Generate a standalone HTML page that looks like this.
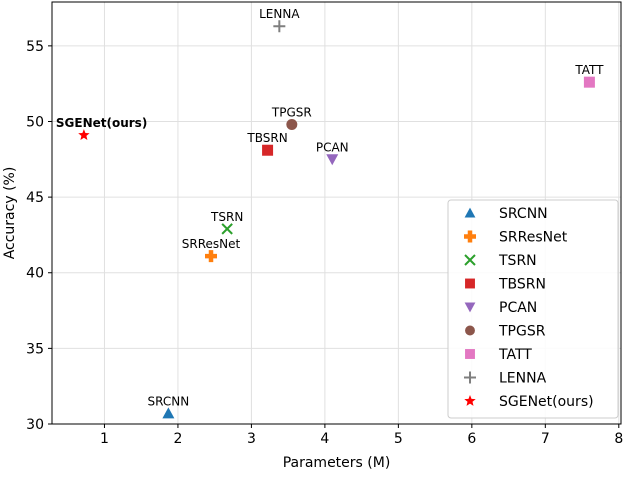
<!DOCTYPE html>
<html><head><meta charset="utf-8"><style>
body{margin:0;background:#fff}
svg{font-family:"DejaVu Sans","Liberation Sans",sans-serif}
</style></head><body>
<svg id="chart" width="624" height="472" viewBox="0 0 624 472">
<g id="grid"></g>
<g id="axes"></g>
<g id="marks"></g>
<g id="legend"></g>
</svg>
<script>
const names=["SRCNN","SRResNet","TSRN","TBSRN","PCAN","TPGSR","TATT","LENNA","SGENet(ours)"];
const params=[1.87,2.45,2.67,3.22,4.1,3.55,7.6,3.38,0.72];
const accuracy=[30.7,41.1,42.9,48.1,47.5,49.8,52.6,56.3,49.1];
const xTicks=[1,2,3,4,5,6,7,8];
const yTicks=[30,35,40,45,50,55];
const colors=["#1f77b4","#ff7f0e","#2ca02c","#d62728","#9467bd","#8c564b","#e377c2","#7f7f7f","#ff0000"];
const shapes=["tri","plus","x","sq","tridown","circle","sq","thinplus","star"];
const L=52,R=621,T=2,B=424,XMIN=0.286,XMAX=8.03,YMIN=30,YMAX=57.9;
const sx=v=>L+(v-XMIN)/(XMAX-XMIN)*(R-L);
const sy=v=>B-(v-YMIN)/(YMAX-YMIN)*(B-T);
const NS="http://www.w3.org/2000/svg";
function mk(tag,attrs,parent){const e=document.createElementNS(NS,tag);for(const k in attrs)e.setAttribute(k,attrs[k]);parent.appendChild(e);return e;}
const grid=document.getElementById('grid'),axes=document.getElementById('axes'),marks=document.getElementById('marks'),legend=document.getElementById('legend');
xTicks.forEach(t=>{const x=sx(t);
 const g=mk('line',{x1:x,x2:x,y1:T,y2:B,stroke:'#e0e0e0','stroke-width':1},grid);
 
 mk('line',{x1:x,x2:x,y1:B,y2:B+4,stroke:'#000'},axes);
 const tx=mk('text',{x:x,y:B+19,'text-anchor':'middle','font-size':14},axes);tx.textContent=t;
 });
yTicks.forEach(t=>{const y=sy(t);
 const g=mk('line',{x1:L,x2:R,y1:y,y2:y,stroke:'#e0e0e0','stroke-width':1},grid);
 
 mk('line',{x1:L-4,x2:L,y1:y,y2:y,stroke:'#000'},axes);
 const tx=mk('text',{x:L-8,y:y+5,'text-anchor':'end','font-size':14},axes);tx.textContent=t;
 });
mk('rect',{x:L,y:T,width:R-L,height:B-T,fill:'none',stroke:'#000','stroke-width':1},axes);
let xl=mk('text',{x:(L+R)/2,y:467,'text-anchor':'middle','font-size':14},axes);xl.textContent='Parameters (M)';

let yl=mk('text',{x:0,y:0,'text-anchor':'middle','font-size':14,transform:`translate(14,${(T+B)/2}) rotate(-90)`},axes);yl.textContent='Accuracy (%)';

function marker(shape,x,y,c,p,s){s=s||1;let e;
 if(shape==='tri')e=mk('polygon',{points:`${x},${y-6*s} ${x-6*s},${y+5*s} ${x+6*s},${y+5*s}`,fill:c},p);
 else if(shape==='tridown')e=mk('polygon',{points:`${x},${y+6*s} ${x-6*s},${y-5*s} ${x+6*s},${y-5*s}`,fill:c},p);
 else if(shape==='sq')e=mk('rect',{x:x-5.5*s,y:y-5.5*s,width:11*s,height:11*s,fill:c},p);
 else if(shape==='circle')e=mk('circle',{cx:x,cy:y,r:5.5*s,fill:c},p);
 else if(shape==='plus')e=mk('path',{d:`M${x-6},${y}H${x+6}M${x},${y-6}V${y+6}`,stroke:c,'stroke-width':4.5},p);
 else if(shape==='thinplus')e=mk('path',{d:`M${x-6},${y}H${x+6}M${x},${y-6}V${y+6}`,stroke:c,'stroke-width':2},p);
 else if(shape==='x')e=mk('path',{d:`M${x-5},${y-5}L${x+5},${y+5}M${x+5},${y-5}L${x-5},${y+5}`,stroke:c,'stroke-width':2},p);
 else{let pts=[];for(let i=0;i<10;i++){const r=i%2?2.6:6,a=-Math.PI/2+i*Math.PI/5;pts.push((x+r*Math.cos(a)).toFixed(1)+','+(y+r*Math.sin(a)).toFixed(1));}
  e=mk('polygon',{points:pts.join(' '),fill:c},p);}
 return e;}
names.forEach((n,i)=>{const x=sx(params[i]),y=sy(accuracy[i]);
 const m=marker(shapes[i],x,y,colors[i],marks);
 
 
 const t=mk('text',{x:x,y:y-8,'text-anchor':'middle','font-size':12},marks);t.textContent=n;
 if(i===8){t.setAttribute('font-weight','bold');t.setAttribute('x',x-28);t.setAttribute('text-anchor','start');}
 });
const lb=mk('rect',{x:448,y:200,width:170,height:218,rx:3,fill:'#fff','fill-opacity':0.85,stroke:'#ccc'},legend);

names.forEach((n,i)=>{const y=213+i*23.5;
 const g=mk('g',{},legend);
 marker(shapes[i],470,y,colors[i],g,0.9);
 const t=mk('text',{x:499,y:y+5,'font-size':14},g);t.textContent=n;});
</script>
</body></html>
